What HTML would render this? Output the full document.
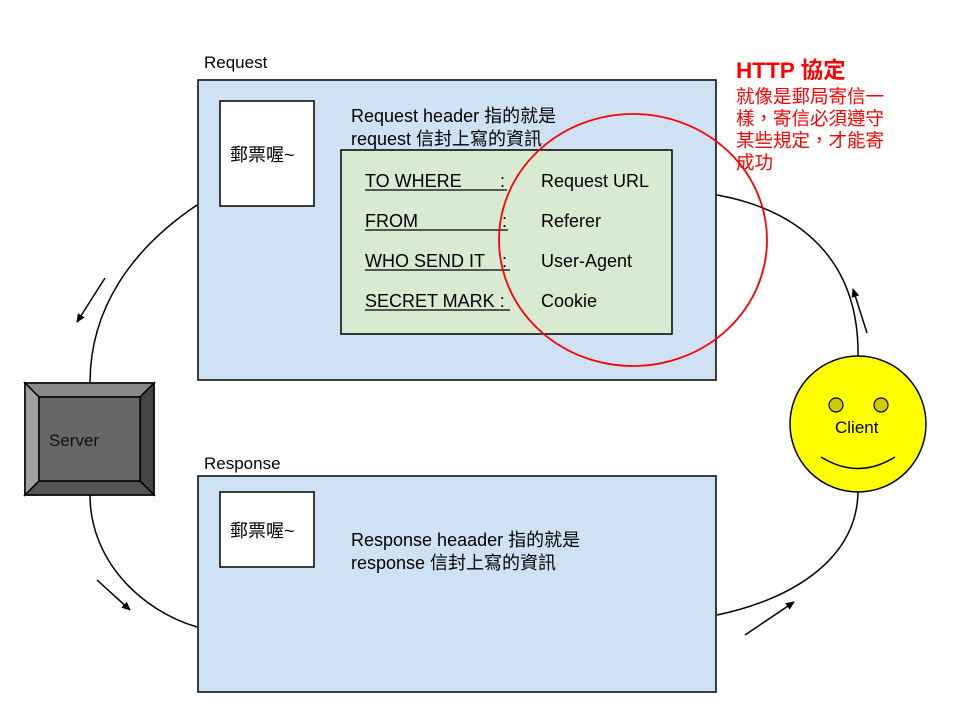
<!DOCTYPE html>
<html><head><meta charset="utf-8"><style>
body{margin:0;background:#fff;}
svg text{font-family:"Liberation Sans","Noto Sans CJK TC",sans-serif;}
</style></head><body>
<svg width="960" height="720" viewBox="0 0 960 720" xmlns="http://www.w3.org/2000/svg">
<defs><marker id="a" markerWidth="10" markerHeight="10" refX="8" refY="5" orient="auto" markerUnits="userSpaceOnUse"><path d="M0,1 L9,5 L0,9 z" fill="#000"/></marker></defs>
<g fill="none" stroke="#000" stroke-width="1.5">
<path d="M197,205 C130,250 90,310 90,383"/>
<path d="M90,495 C90,560 140,610 197,627"/>
<path d="M858,358 C860,260 800,210 717,195"/>
<path d="M858,490 C858,560 790,600 717,615"/>
<line x1="105" y1="278" x2="77" y2="322" marker-end="url(#a)"/>
<line x1="97" y1="580" x2="130" y2="610" marker-end="url(#a)"/>
<line x1="867" y1="333" x2="853" y2="289" marker-end="url(#a)"/>
<line x1="745" y1="635" x2="794" y2="602" marker-end="url(#a)"/>
</g>
<rect x="198" y="80" width="518" height="300" fill="#cfe2f3" stroke="#000" stroke-width="1.5"/>
<rect x="198" y="476" width="518" height="216" fill="#cfe2f3" stroke="#000" stroke-width="1.5"/>
<text x="204" y="68" font-size="17">Request</text>
<text x="204" y="469" font-size="17">Response</text>
<rect x="220" y="101" width="94" height="105" fill="#fff" stroke="#000" stroke-width="1.5"/>
<text x="230" y="161" font-size="18">郵票喔~</text>
<rect x="220" y="492" width="94" height="75" fill="#fff" stroke="#000" stroke-width="1.5"/>
<text x="230" y="537" font-size="18">郵票喔~</text>
<text x="351" y="122" font-size="18">Request header 指的就是</text>
<text x="351" y="145" font-size="18">request 信封上寫的資訊</text>
<text x="351" y="546" font-size="18">Response heaader 指的就是</text>
<text x="351" y="569" font-size="18">response 信封上寫的資訊</text>
<rect x="341" y="150" width="331" height="184" fill="#d9ead3" stroke="#000" stroke-width="1.5"/>
<g font-size="18">
<text x="365" y="187">TO WHERE</text><text x="500" y="187">:</text>
<text x="365" y="227">FROM</text><text x="502" y="227">:</text>
<text x="365" y="267">WHO SEND IT</text><text x="502" y="267">:</text>
<text x="365" y="307">SECRET MARK :</text>
<text x="541" y="187">Request URL</text>
<text x="541" y="227">Referer</text>
<text x="541" y="267">User-Agent</text>
<text x="541" y="307">Cookie</text>
</g>
<g stroke="#000" stroke-width="1.2">
<line x1="365" y1="190" x2="507" y2="190"/>
<line x1="365" y1="230" x2="508" y2="230"/>
<line x1="365" y1="270" x2="510" y2="270"/>
<line x1="365" y1="310" x2="510" y2="310"/>
</g>
<ellipse cx="633" cy="240" rx="134" ry="126" fill="none" stroke="#f00" stroke-width="1.8"/>
<text x="736" y="78" font-size="22.5" font-weight="bold" fill="#f00">HTTP 協定</text>
<g font-size="18.5" fill="#f00">
<text x="736" y="103">就像是郵局寄信一</text>
<text x="736" y="125">樣，寄信必須遵守</text>
<text x="736" y="147">某些規定，才能寄</text>
<text x="736" y="169">成功</text>
</g>
<g stroke="#000" stroke-width="1.5">
<rect x="25" y="383" width="129" height="112" fill="#666"/>
<polygon points="25,383 154,383 140,397 39,397" fill="#8a8a8a"/>
<polygon points="25,383 39,397 39,481 25,495" fill="#a0a0a0"/>
<polygon points="154,383 154,495 140,481 140,397" fill="#444"/>
<polygon points="25,495 39,481 140,481 154,495" fill="#555"/>
<rect x="39" y="397" width="101" height="84" fill="#666"/>
</g>
<text x="49" y="446" font-size="17" fill="#111">Server</text>
<circle cx="858" cy="424" r="68" fill="#ff0" stroke="#000" stroke-width="1.5"/>
<circle cx="836" cy="405" r="7" fill="#cc0" stroke="#000" stroke-width="1.2"/>
<circle cx="881" cy="405" r="7" fill="#cc0" stroke="#000" stroke-width="1.2"/>
<text x="835" y="433" font-size="17">Client</text>
<path d="M821,457 Q858,480 895,457" fill="none" stroke="#000" stroke-width="1.5"/>
</svg>
</body></html>
